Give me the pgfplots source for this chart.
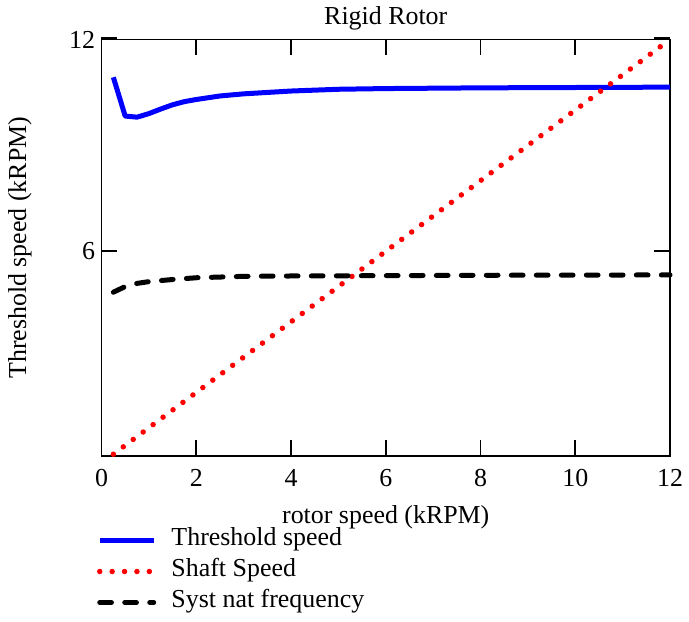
\documentclass[border=0pt]{standalone}
\usepackage{pgfplots}
\pgfplotsset{compat=1.18}
\usepackage{fontspec}
\setmainfont{Liberation Serif}
\begin{document}
\begin{tikzpicture}
\begin{axis}[
  scale only axis,
  width=568.5bp, height=416.5bp,
  xmin=0, xmax=12, ymin=0.2, ymax=12,
  xtick={0,2,4,6,8,10,12},
  ytick={6,12},
  major tick length=0pt,
  axis line style={line width=1.5bp},
  /pgf/number format/assume math mode=true,
  tick label style={font=\fontsize{26}{30}\selectfont},
  xticklabel style={yshift=-10bp},
  yticklabel style={xshift=-3bp},
  label style={font=\fontsize{26}{30}\selectfont},
  title style={font=\fontsize{26}{30}\selectfont},
  title={Rigid Rotor},
  xlabel={rotor speed (kRPM)},
  ylabel={Threshold speed (kRPM)},
  xlabel style={yshift=-12bp},
  every axis y label/.style={at={([xshift=-81.5bp]rel axis cs:0,0.5)}, anchor=center, rotate=90, font=\fontsize{26}{30}\selectfont},
  legend style={at={([xshift=-4.5bp,yshift=-69bp]rel axis cs:0,0)}, anchor=north west, draw=none, fill=none,
    inner sep=0pt, outer sep=0pt,
    font=\fontsize{26}{30}\selectfont, cells={anchor=west},
    nodes={inner sep=0pt, text height=20.5bp, text depth=10.5bp}, row sep=0pt,
    /tikz/every odd column/.append style={column sep=15bp}},
  legend image code/.code={\draw[#1] (0bp,0bp) -- (54bp,0bp);},
  clip=false,
]
\coordinate (sw) at (rel axis cs:0,0);
\addplot[blue, line width=5bp, line join=round] coordinates {
(0.25,10.93) (0.5,9.83) (0.75,9.80) (1.0,9.90) (1.25,10.03) (1.5,10.15) (1.75,10.24)
(2,10.30) (2.5,10.40) (3,10.46) (4,10.54) (5,10.59) (6,10.61) (8,10.63) (10,10.64) (12,10.65)};
\addlegendentry{Threshold speed}
\addplot[red, line width=5.5bp, line cap=round, dash pattern=on 0bp off 12.4bp] coordinates {
(0.25,0.25) (11.9,11.9)};
\addlegendentry{Shaft Speed}
\addplot[black, line width=5bp, line cap=round, dash pattern=on 11.7bp off 13.3bp] coordinates {
(0.25,4.84) (0.5,5.00) (0.75,5.09) (1,5.14) (1.5,5.20) (2,5.25) (3,5.29) (4,5.30) (6,5.31) (8,5.32) (12,5.33)};
\addlegendentry{Syst nat frequency}
\pgfplotsinvokeforeach{2,4,6,8,10}{
  \draw[black, line width=1.8bp, solid] (axis cs:#1,0.2) -- (axis cs:#1,0.653);
  \draw[black, line width=1.8bp, solid] (axis cs:#1,12) -- (axis cs:#1,11.547);
}
\draw[black, line width=1.8bp, solid] (axis cs:0,6) -- (axis cs:0.3377,6);
\draw[black, line width=1.8bp, solid] (axis cs:12,6) -- (axis cs:11.6623,6);
\draw[black, line width=3bp, solid] (axis cs:0,12.04) -- (axis cs:0.3377,12.04);
\draw[black, line width=3bp, solid] (axis cs:12,12.04) -- (axis cs:11.6623,12.04);
\end{axis}
\pgfresetboundingbox
\path[use as bounding box] ([xshift=-101.5bp,yshift=-166bp]sw) rectangle ([xshift=587.5bp,yshift=456bp]sw);
\end{tikzpicture}
\end{document}
